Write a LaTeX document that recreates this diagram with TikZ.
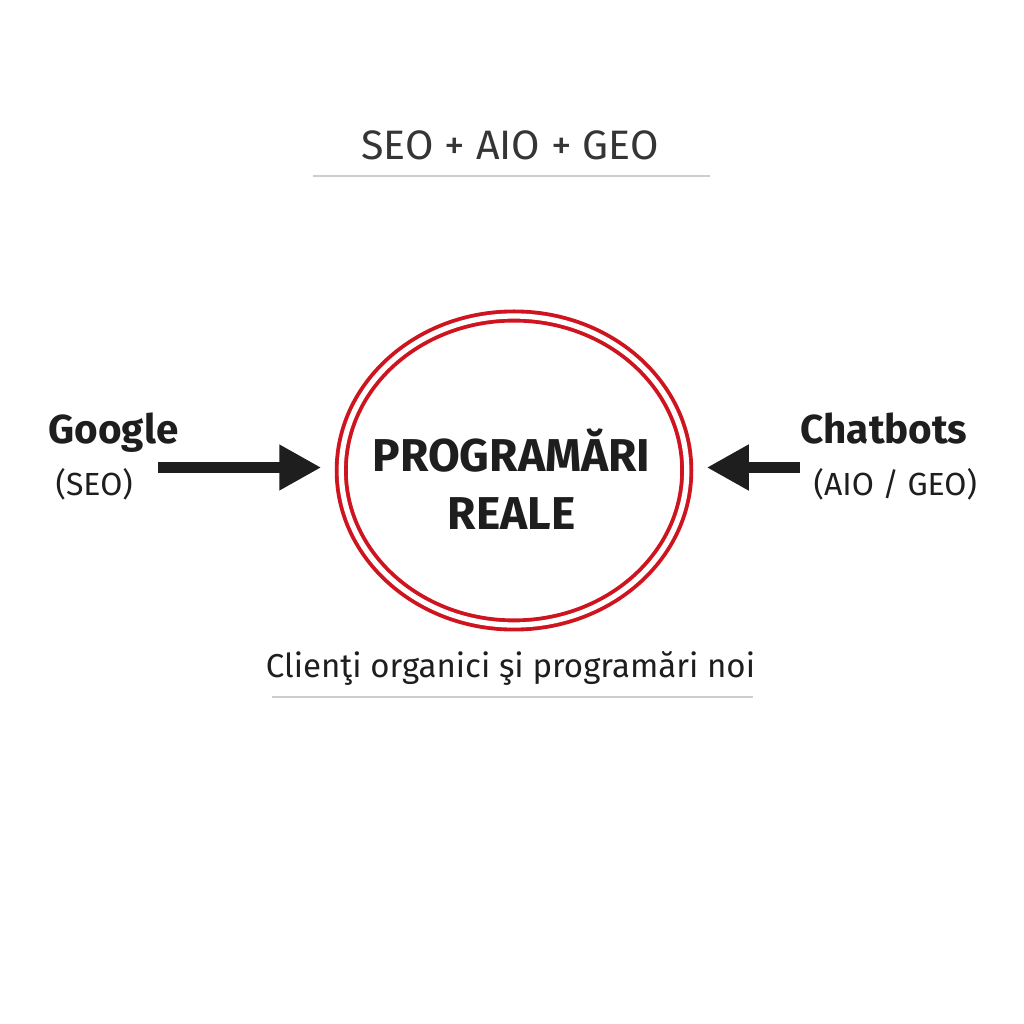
\documentclass[tikz,border=0pt]{standalone}
\usepackage{fontspec}
\setmainfont{Fira Sans}
\usetikzlibrary{arrows.meta,positioning,shapes.geometric}
\definecolor{ringred}{RGB}{206,20,30}
\definecolor{inkdark}{RGB}{30,30,30}
\definecolor{rulegray}{RGB}{205,205,205}

\begin{document}
\begin{tikzpicture}[>={Triangle[length=4.2mm,width=4.3mm]},line join=round,
 ring/.style={ellipse,draw=ringred,double=white,line width=1.1pt,double distance=1.5pt,
  minimum width=3.455cm,minimum height=3.09cm,inner sep=0pt,outer sep=0pt},
 flow/.style={->,draw=inkdark,fill=inkdark,line width=3.1pt,shorten >=0.2cm},
 rulel/.style={rulegray,line width=0.6pt},
 headl/.style={inkdark,font=\bfseries\fontsize{11.5}{13}\selectfont,anchor=base west,inner sep=0pt},
 subl/.style={inkdark,font=\fontsize{9.1}{11}\selectfont,anchor=base west,inner sep=0pt},
 bigl/.style={inkdark,font=\bfseries\fontsize{13.1}{15}\selectfont,anchor=base,inner sep=0pt}]
 \useasboundingbox[fill=white] (0,0) rectangle (10.24,10.24);
 \node[inkdark!90,font=\fontsize{11.7}{14}\selectfont,anchor=base,inner sep=0pt]
  (title) at (5.10,8.64) {SEO + AIO + GEO};
 \draw[rulel] (3.13,8.48) -- (7.10,8.48);
 \node[ring] (ring) at (5.14,5.535) {};
 \node[bigl] (prog) at (5.115,5.52) {PROGRAMĂRI};
 \node[bigl] (reale) at (5.115,4.94) {REALE};
 \node[headl] (google) at (0.48,5.80) {Google};
 \node[subl] (seo) at (0.55,5.28) {(SEO)};
 \node[headl] (chat) at (8.00,5.80) {Chatbots};
 \node[subl] (aiogeo) at (8.13,5.28) {(AIO / GEO)};
 \coordinate (gtail) at (1.58,5.565);
 \coordinate (ctail) at (8.00,5.565);
 \draw[flow] (gtail) -- (gtail -| ring.west);
 \draw[flow] (ctail) -- (ctail -| ring.east);
 \node[inkdark,font=\fontsize{9.4}{12}\selectfont,anchor=base,inner sep=0pt]
  (clienti) at (5.105,3.46) {Clienţi organici şi programări noi};
 \draw[rulel] (2.72,3.27) -- (7.53,3.27);
\end{tikzpicture}
\end{document}
